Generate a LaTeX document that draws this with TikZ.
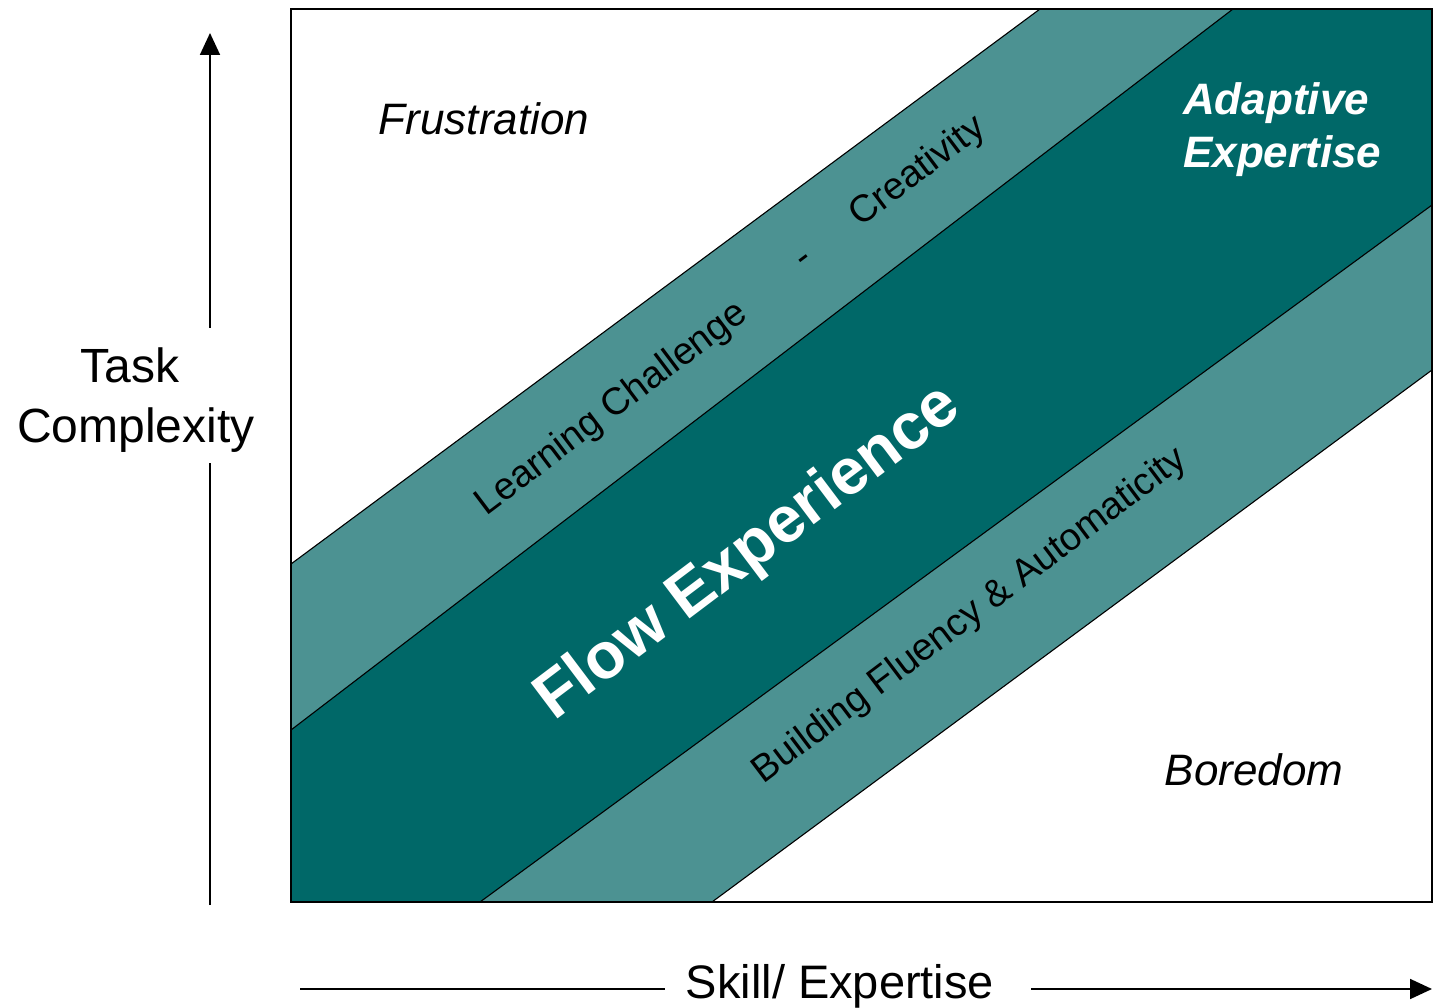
\documentclass[tikz,border=0pt]{standalone}
\usepackage{fontspec}
\setmainfont{Liberation Sans}
\usetikzlibrary{arrows.meta}
\definecolor{lightteal}{RGB}{76,146,146}
\definecolor{darkteal}{RGB}{0,104,104}
\begin{document}
\begin{tikzpicture}[x=1pt,y=-1pt,
  bandline/.style={draw=black,line width=1.1pt},
  frameline/.style={draw=black,line width=2pt},
  axisline/.style={draw=black,line width=1.8pt},
  axistip/.style={-{Triangle[length=22pt,width=20pt]}},
  bandtext/.style={font=\fontsize{38}{44}\selectfont, text=black, rotate=37, anchor=base, inner sep=0pt},
  flowtext/.style={font=\fontsize{65}{72}\selectfont\bfseries, text=white, rotate=37, anchor=base, inner sep=0pt},
  regiontext/.style={font=\fontsize{44}{50}\selectfont\itshape, text=black, anchor=base, inner sep=0pt},
  adapttext/.style={font=\fontsize{44}{50}\selectfont\bfseries\itshape, text=white, anchor=base west, inner sep=0pt},
  axislabel/.style={font=\fontsize{48}{54}\selectfont, text=black, anchor=base, inner sep=0pt},
  skilllabel/.style={font=\fontsize{47}{54}\selectfont, text=black, anchor=base, inner sep=0pt}]
\useasboundingbox (0,0) rectangle (1433,1008);
\fill[white] (0,0) rectangle (1433,1008);
% frame corners
\coordinate (TL) at (291,9);
\coordinate (TR) at (1432,9);
\coordinate (BR) at (1432,902);
\coordinate (BL) at (291,902);
% band boundaries
\coordinate (A1) at (291,564);
\coordinate (A2) at (1040,9);
\coordinate (B1) at (291,730);
\coordinate (B2) at (1233,9);
\coordinate (C1) at (480,902);
\coordinate (C2) at (1432,205);
\coordinate (D1) at (712,902);
\coordinate (D2) at (1432,370);
\fill[lightteal] (A1)--(A2)--(B2)--(B1)--cycle;
\fill[darkteal] (B1)--(B2)--(TR)--(C2)--(C1)--(BL)--cycle;
\fill[lightteal] (C1)--(C2)--(D2)--(D1)--cycle;
\draw[bandline] (A1)--(A2) (B1)--(B2) (C1)--(C2) (D1)--(D2);
\draw[frameline] (TL) rectangle (BR);
% axes
\coordinate (vbot) at (210,905);
\coordinate (vgapa) at (210,463);
\coordinate (vgapb) at (210,328);
\coordinate (vtop) at (210,33);
\draw[axisline] (vbot)--(vgapa);
\draw[axisline,axistip] (vgapb)--(vtop);
\coordinate (hleft) at (300,989);
\coordinate (hgapa) at (665,989);
\coordinate (hgapb) at (1031,989);
\coordinate (hright) at (1432,989);
\draw[axisline] (hleft)--(hgapa);
\draw[axisline,axistip] (hgapb)--(hright);
% labels
\node[axislabel] (task) at (130,383) {Task};
\node[axislabel] (complexity) at (136,442) {Complexity};
\node[skilllabel] (skill) at (840,998) {Skill/ Expertise};
\node[regiontext] (frustration) at (484,135) {Frustration};
\node[regiontext] (boredom) at (1254,785) {Boredom};
\node[adapttext] (adaptive) at (1183,115) {Adaptive};
\node[adapttext] (expertise) at (1183,168) {Expertise};
\node[bandtext] (learning) at (618,417) {Learning Challenge};
\node[bandtext,anchor=center] (dash) at (806,262) {-};
\node[bandtext] (creativity) at (924,180) {Creativity};
\node[bandtext] (building) at (976,624) {Building Fluency \& Automaticity};
\node[flowtext] (flow) at (759,567) {Flow Experience};
\end{tikzpicture}
\end{document}
